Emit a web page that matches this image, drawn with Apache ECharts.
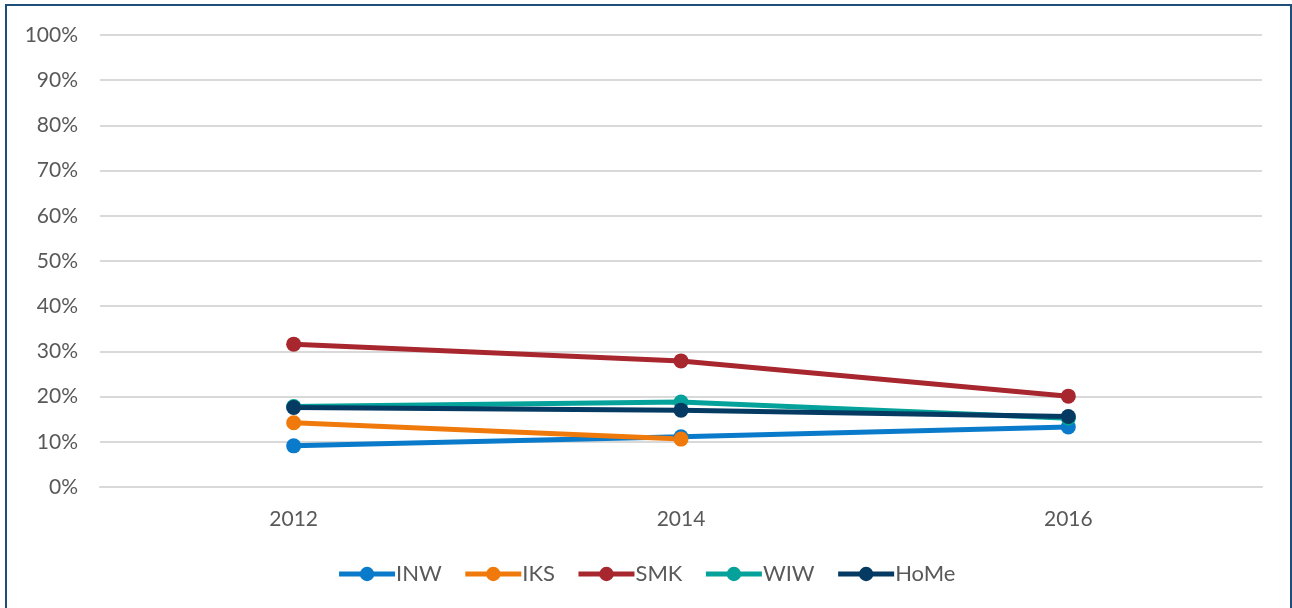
<!DOCTYPE html>
<html>
<head>
<meta charset="utf-8">
<script src="https://cdn.jsdelivr.net/npm/echarts@6/dist/echarts.min.js"></script>
<style>
    html, body { margin: 0; padding: 0; background: #fff; }
    #chart { position: absolute; left: 0; top: 0; width: 1292px; height: 608px; }
    #frame { position: absolute; left: 5px; top: 4px; width: 1283px; height: 610px;
             border: 2px solid #1f4e79; pointer-events: none; }
</style>
</head>
<body>
<div id="chart"></div>
<div id="frame"></div>
<script>
    // values in percent
    var years = ['2012', '2014', '2016'];
    var names = ['INW', 'IKS', 'SMK', 'WIW', 'HoMe'];
    var inw = [9.1, 11.1, 13.3];
    var iks = [14.2, 10.6, null];
    var smk = [31.6, 27.9, 20.1];
    var wiw = [17.8, 18.8, 15.2];
    var home = [17.6, 17.0, 15.6];
    var colors = ['#0a7bca', '#ef7a0b', '#a8272f', '#04a29a', '#053a62'];

    var font = 'Lato, "Open Sans", sans-serif';
    var chart = echarts.init(document.getElementById('chart'));

    var allData = [inw, iks, smk, wiw, home];
    var series = [];
    for (var i = 0; i < names.length; i++) {
        series.push({
            name: names[i],
            type: 'line',
            data: allData[i],
            symbol: 'circle',
            symbolSize: 15,
            lineStyle: { width: 5, color: colors[i] },
            itemStyle: { color: colors[i] },
            emphasis: { disabled: true }
        });
    }

    chart.setOption({
        animation: false,
        color: colors,
        grid: { left: 100, right: 30, top: 35, bottom: 121 },
        legend: {
            data: names,
            bottom: 18,
            left: 'center',
            itemWidth: 56,
            itemHeight: 18,
            itemGap: 21,
            lineStyle: { width: 5 },
            textStyle: { color: '#595959', fontSize: 22, fontFamily: font, padding: [0, 0, 0, -4] }
        },
        xAxis: {
            type: 'category',
            data: years,
            boundaryGap: true,
            axisLine: { lineStyle: { color: '#d9d9d9', width: 2 } },
            axisTick: { show: false },
            axisLabel: { color: '#595959', fontSize: 21, fontFamily: font, margin: 22 }
        },
        yAxis: {
            type: 'value',
            min: 0,
            max: 100,
            interval: 10,
            axisLine: { show: false },
            axisTick: { show: false },
            splitLine: { lineStyle: { color: '#d9d9d9', width: 2 } },
            axisLabel: {
                color: '#595959', fontSize: 21, fontFamily: font, margin: 22,
                formatter: '{value}%'
            }
        },
        series: series
    });
</script>
</body>
</html>
